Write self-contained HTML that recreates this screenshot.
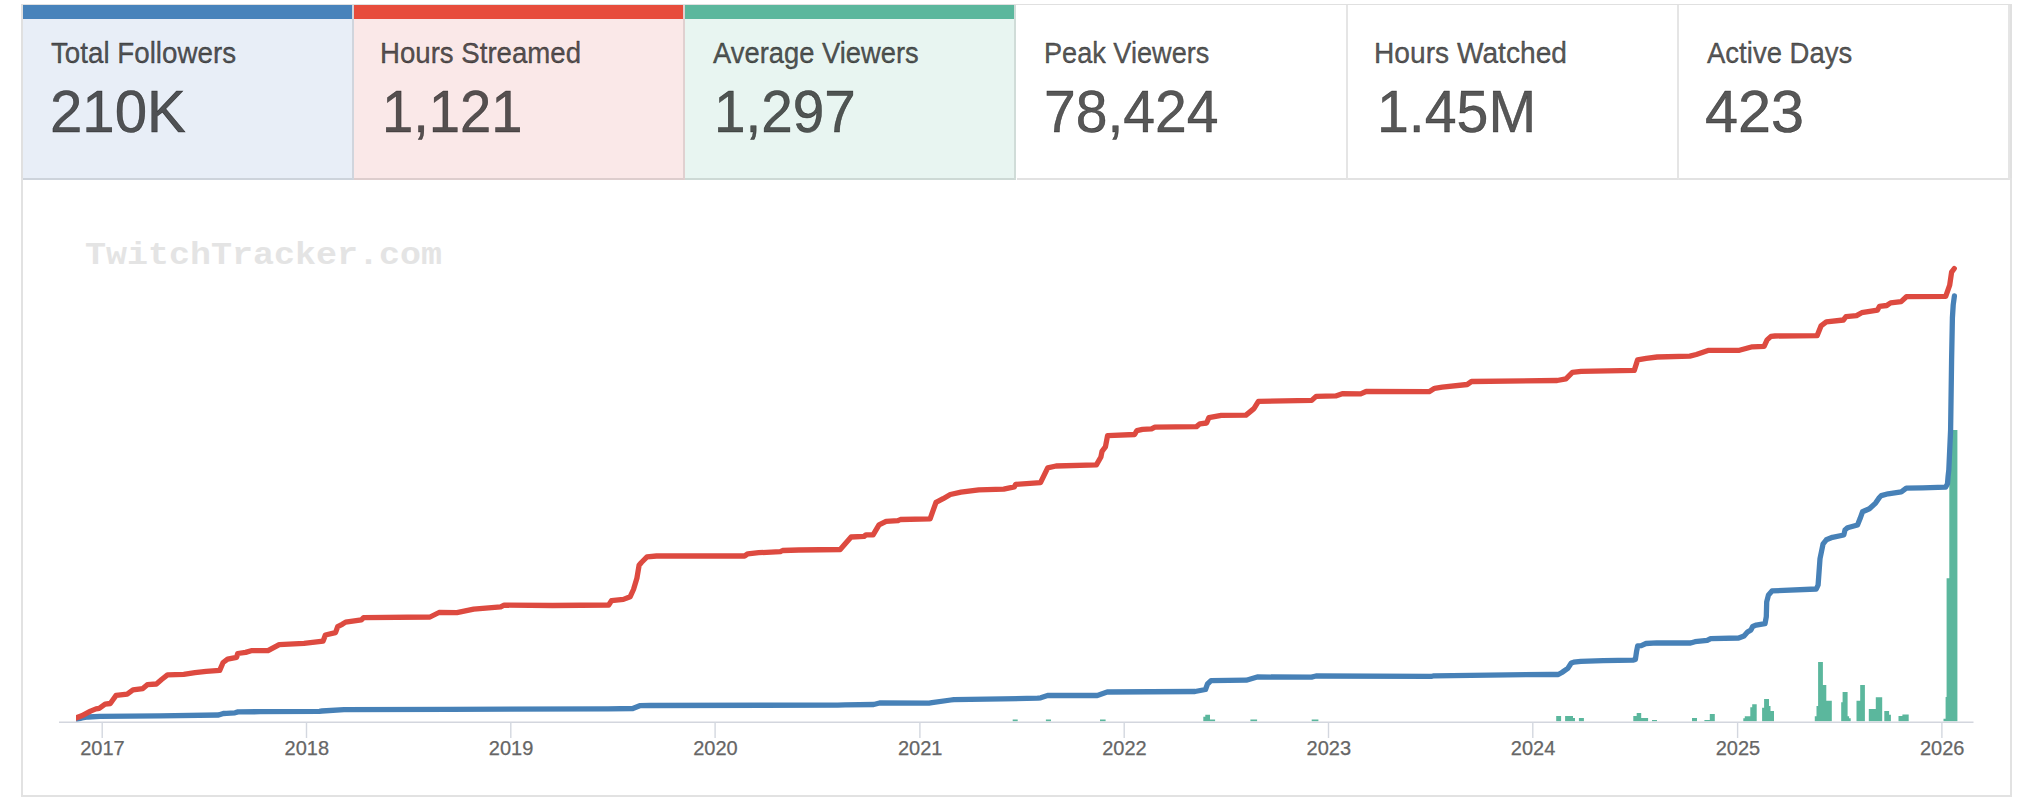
<!DOCTYPE html>
<html><head><meta charset="utf-8"><style>
html,body{margin:0;padding:0;background:#fff;width:2024px;height:800px;overflow:hidden}
body{position:relative;font-family:"Liberation Sans",sans-serif}
.frame{position:absolute;left:21px;top:178px;width:1987px;height:617px;border:2px solid #e2e2e2;border-top:none}
.top{position:absolute;left:21px;top:4px;width:1991px;height:1px;background:#e0e0e0}
.lb{position:absolute;left:21px;top:4px;width:2px;height:176px;background:#e0e0e0}
.rb{position:absolute;left:2010px;top:4px;width:2px;height:176px;background:#e0e0e0}
.card{position:absolute;top:5px;height:173px;box-sizing:border-box;border-right:2px solid rgba(0,0,0,.1);border-bottom:2px solid rgba(0,0,0,.11);height:175px}
.bar{position:absolute;left:0;right:0;top:0;height:14px}
.lab{position:absolute;font-size:29.3px;line-height:29.3px;color:rgba(0,0,0,.66);white-space:nowrap;transform-origin:0 0;-webkit-text-stroke:0.45px rgba(0,0,0,.66)}
.val{position:absolute;font-size:59.0px;line-height:59.0px;color:rgba(0,0,0,.66);white-space:nowrap;transform-origin:0 0;-webkit-text-stroke:0.5px rgba(0,0,0,.66)}
svg{position:absolute;left:0;top:0}
.wm{font-family:"Liberation Mono",monospace;font-weight:bold;font-size:35px;fill:#e4e4e4}
.ax text{font-family:"Liberation Sans",sans-serif;font-size:20px;fill:#666;stroke:#666;stroke-width:0.25px;text-anchor:middle}
</style></head><body>
<div class="top"></div><div class="lb"></div><div class="rb"></div>
<div class="card" style="left:23.00px;width:331.17px;background:#e8eef7"><div class="bar" style="background:#4883bb"></div></div><div class="card" style="left:354.17px;width:331.17px;background:#fae8e8"><div class="bar" style="background:#e74c3c"></div></div><div class="card" style="left:685.33px;width:331.17px;background:#e8f5f1"><div class="bar" style="background:#5bb79d"></div></div><div class="card" style="left:1016.50px;width:331.17px;background:#ffffff"></div><div class="card" style="left:1347.67px;width:331.17px;background:#ffffff"></div><div class="card" style="left:1678.83px;width:331.17px;background:#ffffff"></div><span class="lab" style="left:50.92px;top:37.90px;transform:scaleX(0.9470)">Total Followers</span><span class="val" style="left:50.03px;top:83.30px;transform:scaleX(0.9865)">210K</span><span class="lab" style="left:379.84px;top:37.90px;transform:scaleX(0.9423)">Hours Streamed</span><span class="val" style="left:382.32px;top:83.30px;transform:scaleX(0.9517)">1,121</span><span class="lab" style="left:712.59px;top:37.90px;transform:scaleX(0.9336)">Average Viewers</span><span class="val" style="left:713.50px;top:83.30px;transform:scaleX(0.9596)">1,297</span><span class="lab" style="left:1044.27px;top:37.90px;transform:scaleX(0.9256)">Peak Viewers</span><span class="val" style="left:1044.03px;top:83.30px;transform:scaleX(0.9676)">78,424</span><span class="lab" style="left:1374.21px;top:37.90px;transform:scaleX(0.9608)">Hours Watched</span><span class="val" style="left:1376.63px;top:83.30px;transform:scaleX(0.9707)">1.45M</span><span class="lab" style="left:1706.58px;top:37.90px;transform:scaleX(0.9395)">Active Days</span><span class="val" style="left:1704.81px;top:83.30px;transform:scaleX(1.0060)">423</span>
<div class="frame"></div>
<svg width="2024" height="800" viewBox="0 0 2024 800"><defs><clipPath id="pc"><rect x="76" y="180" width="1900" height="541.5"/></clipPath></defs>
<text class="wm" x="85" y="0" transform="translate(0,263.6) scale(1,0.88)">TwitchTracker.com</text>
<g fill="#5bb79d"><path d="M1012.7,721.3L1012.7,719.6L1017.7,719.6L1017.7,721.3ZM1045.9,721.3L1045.9,719.6L1051.0,719.6L1051.0,721.3ZM1100.0,721.3L1100.0,719.6L1105.6,719.6L1105.6,721.3ZM1203.3,721.3L1203.3,716.8L1205.3,716.8L1205.3,714.8L1210.0,714.8L1210.0,719.6L1215.1,719.6L1215.1,721.3ZM1250.4,721.3L1250.4,719.6L1257.1,719.6L1257.1,721.3ZM1311.7,721.3L1311.7,719.6L1318.4,719.6L1318.4,721.3ZM1556.2,721.3L1556.2,716.1L1561.1,716.1L1561.1,721.3ZM1565.1,721.3L1565.1,716.1L1573.0,716.1L1573.0,718.0L1575.0,718.0L1575.0,721.3ZM1578.9,721.3L1578.9,718.0L1583.9,718.0L1583.9,721.3ZM1633.3,721.3L1633.3,716.1L1636.7,716.1L1636.7,713.1L1641.2,713.1L1641.2,718.0L1648.1,718.0L1648.1,721.3ZM1652.0,721.3L1652.0,720.0L1657.0,720.0L1657.0,721.3ZM1692.0,721.3L1692.0,718.0L1697.0,718.0L1697.0,721.3ZM1704.4,721.3L1704.4,720.0L1709.8,720.0L1709.8,714.1L1714.8,714.1L1714.8,721.3ZM1743.3,721.3L1743.3,718.2L1744.8,718.2L1744.8,716.2L1750.3,716.2L1750.3,707.3L1752.2,707.3L1752.2,704.2L1756.7,704.2L1756.7,721.3ZM1762.1,721.3L1762.1,707.8L1764.1,707.8L1764.1,698.9L1769.0,698.9L1769.0,706.1L1770.5,706.1L1770.5,711.1L1774.0,711.1L1774.0,721.3ZM1814.8,721.3L1814.8,716.2L1816.5,716.2L1816.5,706.1L1818.1,706.1L1818.1,662.1L1822.9,662.1L1822.9,685.1L1826.3,685.1L1826.3,700.7L1831.8,700.7L1831.8,721.3ZM1841.2,721.3L1841.2,702.2L1842.6,702.2L1842.6,692.0L1847.6,692.0L1847.6,716.2L1849.1,716.2L1849.1,718.2L1850.7,718.2L1850.7,721.3ZM1856.5,721.3L1856.5,700.7L1860.2,700.7L1860.2,685.1L1864.9,685.1L1864.9,721.3ZM1868.8,721.3L1868.8,709.1L1875.8,709.1L1875.8,697.2L1882.2,697.2L1882.2,721.3ZM1884.3,721.3L1884.3,711.1L1889.1,711.1L1889.1,714.7L1890.9,714.7L1890.9,721.3ZM1898.5,721.3L1898.5,716.0L1902.4,716.0L1902.4,714.4L1908.7,714.4L1908.7,721.3ZM1943.5,721.3L1943.5,718.7L1945.6,718.7L1945.6,697.0L1946.6,697.0L1946.6,578.3L1949.3,578.3L1949.3,430.0L1957.4,430.0L1957.4,721.3Z"/></g>
<line x1="59" y1="722.3" x2="1973.5" y2="722.3" stroke="#d3d6de" stroke-width="1.6"/>
<g stroke="#d3d7df" stroke-width="1.4"><line x1="102.2" y1="722" x2="102.2" y2="738"/><line x1="306.5" y1="722" x2="306.5" y2="738"/><line x1="510.8" y1="722" x2="510.8" y2="738"/><line x1="715.1" y1="722" x2="715.1" y2="738"/><line x1="919.9" y1="722" x2="919.9" y2="738"/><line x1="1124.2" y1="722" x2="1124.2" y2="738"/><line x1="1328.5" y1="722" x2="1328.5" y2="738"/><line x1="1532.8" y1="722" x2="1532.8" y2="738"/><line x1="1737.6" y1="722" x2="1737.6" y2="738"/><line x1="1941.9" y1="722" x2="1941.9" y2="738"/></g>
<g class="ax"><text x="102.5" y="754.5">2017</text><text x="306.8" y="754.5">2018</text><text x="511.1" y="754.5">2019</text><text x="715.4" y="754.5">2020</text><text x="920.2" y="754.5">2021</text><text x="1124.5" y="754.5">2022</text><text x="1328.8" y="754.5">2023</text><text x="1533.1" y="754.5">2024</text><text x="1737.9" y="754.5">2025</text><text x="1942.2" y="754.5">2026</text></g>
<g clip-path="url(#pc)"><polyline points="70.0,721.0 76.1,719.6 82.0,718.0 88.0,717.0 100.0,716.4 160.0,715.8 218.6,715.0 223.3,713.5 226.5,713.3 235.0,712.8 238.0,711.9 260.0,711.7 319.2,711.3 322.0,711.0 344.0,709.6 450.0,709.4 608.0,708.8 632.8,708.5 639.7,705.7 650.0,705.5 837.7,705.1 845.0,704.8 873.7,704.5 879.6,703.0 929.0,703.1 932.0,702.7 950.8,700.0 953.8,699.6 1003.0,698.8 1037.7,698.2 1040.7,697.8 1047.6,695.5 1097.3,695.5 1107.2,692.0 1195.0,691.5 1205.5,689.5 1207.5,684.0 1211.0,680.6 1246.3,680.2 1257.2,677.0 1311.5,677.1 1316.0,676.0 1432.0,676.3 1434.0,675.8 1550.0,674.4 1558.3,674.5 1561.9,672.5 1567.8,668.4 1571.3,663.0 1573.7,662.2 1580.8,661.3 1603.3,660.7 1633.0,660.1 1635.4,659.5 1636.5,651.8 1637.7,645.9 1641.3,645.6 1646.0,643.5 1656.7,642.9 1690.6,643.0 1695.0,641.7 1707.2,640.4 1710.7,638.6 1738.7,638.0 1744.0,636.0 1747.5,632.1 1751.0,629.9 1752.7,626.4 1756.2,625.1 1765.0,623.7 1766.3,616.7 1766.7,601.9 1768.5,594.9 1772.0,590.9 1816.3,589.0 1818.1,585.0 1820.0,558.8 1823.1,543.8 1826.3,539.8 1832.5,537.3 1843.8,535.0 1845.0,530.0 1847.5,527.8 1857.5,525.0 1860.0,518.8 1862.5,511.8 1869.4,508.8 1875.6,503.1 1879.4,497.5 1881.3,495.6 1888.1,493.8 1901.3,491.9 1906.3,488.1 1922.5,487.8 1945.6,487.2 1947.5,483.8 1948.1,476.3 1948.8,470.0 1950.6,430.0 1951.6,360.0 1952.4,318.0 1953.2,305.0 1954.4,296.0" fill="none" stroke="#4781b7" stroke-width="5.3" stroke-linejoin="round" stroke-linecap="round"/>
<polyline points="70.0,721.0 76.1,717.9 81.7,715.8 90.5,711.1 96.0,708.9 99.2,708.4 105.1,704.2 110.3,703.5 113.5,699.0 116.1,695.4 127.2,694.1 133.0,689.9 142.8,688.6 147.3,684.7 156.4,684.0 161.6,679.5 167.5,674.9 183.7,674.3 195.0,672.6 206.2,671.3 219.7,670.4 223.1,662.5 227.6,659.1 236.6,657.4 237.7,653.5 245.6,652.4 251.2,650.7 268.0,650.7 279.2,644.6 304.0,643.4 323.1,641.2 325.4,635.0 335.5,632.7 337.7,626.6 342.2,624.3 345.6,622.1 361.4,619.8 363.6,617.6 430.0,617.0 439.0,612.5 456.9,612.6 473.7,609.2 500.7,606.9 504.1,605.2 552.5,605.5 608.7,605.0 611.5,600.7 623.4,599.4 630.1,596.8 633.5,589.5 636.9,578.2 639.1,565.3 641.4,562.5 647.0,556.9 656.5,556.0 744.6,556.0 747.8,553.8 758.7,552.7 780.4,551.6 782.6,550.5 798.9,550.0 840.2,549.5 851.1,537.0 864.1,536.4 865.9,534.9 873.1,534.9 879.0,524.8 886.1,521.3 898.0,520.7 900.4,519.5 930.1,518.9 936.0,502.3 943.1,498.7 950.3,494.5 961.0,492.2 978.8,489.8 1003.7,489.2 1014.4,486.8 1015.6,484.4 1040.5,482.7 1047.7,467.8 1056.0,466.0 1096.4,464.9 1100.9,457.0 1102.0,451.4 1105.4,446.9 1107.6,435.6 1134.6,434.5 1136.9,430.6 1142.5,429.4 1151.5,428.9 1154.9,427.2 1196.5,426.6 1199.9,423.8 1206.6,423.0 1208.9,417.6 1221.2,415.4 1246.0,415.1 1253.9,408.6 1258.4,401.3 1311.7,400.4 1316.1,396.4 1335.7,395.9 1342.2,393.7 1360.7,393.9 1366.1,391.5 1429.1,391.7 1434.6,388.3 1442.2,387.2 1467.2,384.5 1471.5,381.5 1557.2,380.5 1565.9,378.9 1572.4,372.4 1581.1,371.3 1634.3,370.4 1637.6,359.9 1646.3,358.3 1657.2,357.0 1689.8,356.1 1696.3,354.5 1708.8,350.3 1739.4,350.3 1752.3,346.8 1764.1,346.3 1767.1,339.9 1771.0,336.4 1775.0,336.0 1817.1,335.7 1821.0,325.9 1826.3,321.9 1843.4,320.0 1846.0,316.7 1856.5,315.6 1861.7,312.7 1877.5,310.1 1879.4,306.4 1886.7,305.5 1890.6,302.9 1901.1,301.6 1906.4,296.7 1945.7,296.3 1949.7,285.2 1951.6,272.1 1954.3,268.5" fill="none" stroke="#dd4a40" stroke-width="5.3" stroke-linejoin="round" stroke-linecap="round"/></g>
</svg>
</body></html>
